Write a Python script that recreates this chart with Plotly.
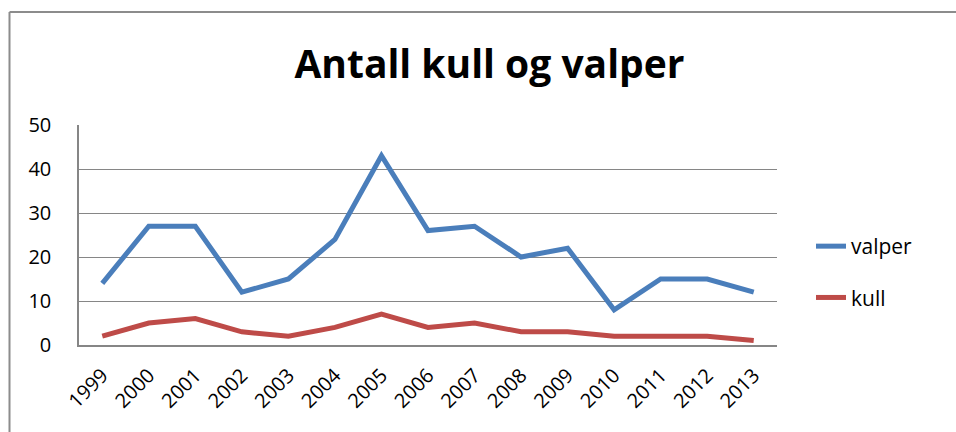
import plotly.graph_objects as go

years = ["1999", "2000", "2001", "2002", "2003", "2004", "2005", "2006",
         "2007", "2008", "2009", "2010", "2011", "2012", "2013"]
valper = [14, 27, 27, 12, 15, 24, 43, 26, 27, 20, 22, 8, 15, 15, 12]
kull = [2, 5, 6, 3, 2, 4, 7, 4, 5, 3, 3, 2, 2, 2, 1]

W, H = 956, 432
L, R, T, B = 79, 179, 125, 87
pw, ph = W - L - R, H - T - B

def px(x):
    return (x - L) / pw

def py(y):
    return (H - B - y) / ph

fig = go.Figure()
fig.add_trace(go.Scatter(x=years, y=valper, mode="lines", name="valper",
                         line=dict(color="#4A7EBB", width=5), legendgroup="a"))
fig.add_trace(go.Scatter(x=years, y=kull, mode="lines", name="kull",
                         line=dict(color="#BE4B48", width=5), legendgroup="b"))

font = "Open Sans, Carlito, Calibri, sans-serif"

fig.update_layout(
    width=W, height=H,
    margin=dict(l=L, r=R, t=T, b=B, autoexpand=False),
    paper_bgcolor="white", plot_bgcolor="white",
    title=dict(text="<b>Antall kull og valper</b>", x=0.512, xanchor="center",
               y=1 - 64 / H, yanchor="middle",
               font=dict(family=font, size=39, color="black")),
    font=dict(family=font, size=19, color="black"),
    showlegend=True,
    legend=dict(x=px(811), xanchor="left", y=py(226), yanchor="top",
                tracegroupgap=21, font=dict(size=21),
                bgcolor="rgba(0,0,0,0)"),
    xaxis=dict(type="category", tickangle=-45, showgrid=False,
               showline=True, linecolor="#868686", linewidth=1.5,
               ticks="outside", ticklen=9, tickcolor="rgba(0,0,0,0)",
               tickfont=dict(size=20), range=[-0.5, 14.5]),
    yaxis=dict(range=[0, 50], dtick=10, showgrid=True, gridcolor="#868686",
               gridwidth=1, showline=True, linecolor="#868686", linewidth=1.5,
               ticks="outside", ticklen=22, tickcolor="rgba(0,0,0,0)",
               tickfont=dict(size=20), zeroline=False),
    shapes=[
        dict(type="line", xref="paper", yref="paper", x0=px(9.5), x1=px(9.5),
             y0=py(12), y1=py(432), line=dict(color="#8C8C8C", width=2)),
        dict(type="line", xref="paper", yref="paper", x0=px(9.5), x1=px(956),
             y0=py(12), y1=py(12), line=dict(color="#8C8C8C", width=2)),
    ],
)

fig.write_html("out.html", config={"displayModeBar": False},
               post_script="document.body.style.margin='0';")
